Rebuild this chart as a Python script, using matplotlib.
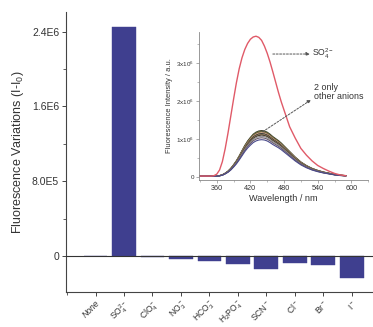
import matplotlib
matplotlib.use("Agg")
import matplotlib.pyplot as plt
from matplotlib.ticker import MultipleLocator, FixedLocator

plt.rcParams['font.family'] = ['Liberation Sans', 'DejaVu Sans']
plt.rcParams['mathtext.fontset'] = 'custom'
plt.rcParams['mathtext.rm'] = 'Liberation Sans'
plt.rcParams['mathtext.it'] = 'Liberation Sans:italic'

# ---- main bar data ----
anions = ["None", r"SO$_4^{2-}$", r"ClO$_4^-$", r"NO$_3^-$", r"HCO$_3^-$",
          r"H$_2$PO$_4^-$", r"SCN$^-$", r"Cl$^-$", r"Br$^-$", r"I$^-$"]
variations = [0, 2.455e6, -1.0e4, -3.5e4, -5.4e4, -8.2e4, -1.36e5, -7.5e4, -1.0e5, -2.4e5]
main_yticks = [0, 8.0e5, 1.6e6, 2.4e6]
main_yticklabels = ["0", "8.0E5", "1.6E6", "2.4E6"]

# ---- inset spectra data (intensity in units of 1e6) ----
wavelength = [330, 340, 350, 355, 360, 365, 370, 375, 380, 385, 390, 395, 400, 405, 410,
              415, 420, 425, 430, 435, 440, 445, 450, 455, 460, 465, 470, 475, 480,
              490, 500, 510, 520, 530, 540, 550, 560, 570, 580, 590]
so4_curve = [0.02, 0.02, 0.02, 0.03, 0.07, 0.18, 0.40, 0.74, 1.15, 1.60, 2.05, 2.48, 2.85, 3.14, 3.36,
             3.52, 3.63, 3.69, 3.71, 3.68, 3.60, 3.45, 3.26, 3.03, 2.77, 2.50, 2.23, 1.98, 1.76,
             1.32, 1.02, 0.75, 0.57, 0.42, 0.30, 0.22, 0.15, 0.09, 0.05, 0.03]
other_profile = [0.02, 0.02, 0.02, 0.02, 0.02, 0.03, 0.05, 0.09, 0.14, 0.21, 0.30, 0.40, 0.52, 0.65, 0.78,
                 0.89, 0.98, 1.06, 1.11, 1.14, 1.15, 1.14, 1.11, 1.06, 1.00, 0.95, 0.90, 0.84, 0.77,
                 0.63, 0.49, 0.37, 0.28, 0.21, 0.16, 0.12, 0.09, 0.06, 0.04, 0.03]
other_peaks = [1.22, 1.20, 1.18, 1.16, 1.14, 1.12, 1.10, 1.07, 1.03, 0.98]
other_colors = ["#3a3a2a", "#5a6a3a", "#7a5a3a", "#d8b090", "#2a2a2a", "#8a7a5a",
                "#4a3a2a", "#909090", "#6a5a6a", "#4a4a8a"]
inset_xticks = [360, 420, 480, 540, 600]
inset_yticks = [0, 1, 2, 3]
inset_yticklabels = ["0", r"1x10$^6$", r"2x10$^6$", r"3x10$^6$"]

text_color = "#333333"
bar_color = "#3f3f8f"

fig = plt.figure(figsize=(3.73, 3.27), dpi=100)
ax = fig.add_axes([0.177, 0.107, 0.823, 0.856])

x = list(range(len(anions)))
ax.bar(x, variations, width=0.84, color=bar_color, edgecolor=bar_color, linewidth=0.3, zorder=2)
ax.axhline(0, color="#333333", linewidth=0.8, zorder=3)
ax.set_xlim(-1.035, 9.74)
ax.set_ylim(-3.86e5, 2.61e6)
ax.spines["top"].set_visible(False)
ax.spines["right"].set_visible(False)
for s in ["left", "bottom"]:
    ax.spines[s].set_color("#444444")
    ax.spines[s].set_linewidth(0.8)
ax.set_yticks(main_yticks)
ax.set_yticklabels(main_yticklabels, fontsize=7.5, color=text_color)
ax.yaxis.set_minor_locator(MultipleLocator(4e5))
ax.set_xticks(x)
ax.set_xticklabels(anions, rotation=45, ha="right", rotation_mode="anchor",
                   fontsize=6.2, color=text_color)
for lbl in ax.get_xticklabels()[:1]:
    lbl.set_style("italic")
ax.xaxis.set_minor_locator(FixedLocator([-1]))
ax.tick_params(axis="both", which="major", direction="out", length=3, width=0.7, color="#444444", pad=2)
ax.tick_params(axis="x", which="major", pad=1.5)
ax.tick_params(axis="both", which="minor", direction="out", length=2, width=0.6, color="#444444")
ax.set_ylabel(r"Fluorescence Variations (I-I$_0$)", fontsize=9, color=text_color, labelpad=4)

# ---- inset ----
ins = fig.add_axes([0.533, 0.450, 0.454, 0.452])
for pk, col in zip(other_peaks, other_colors):
    ins.plot(wavelength, [v * pk / 1.15 for v in other_profile], color=col, linewidth=0.8)
ins.plot(wavelength, so4_curve, color="#e05a68", linewidth=1.0)
ins.set_xlim(328, 630)
ins.set_ylim(-0.08, 3.82)
ins.spines["top"].set_visible(False)
ins.spines["right"].set_visible(False)
for s in ["left", "bottom"]:
    ins.spines[s].set_color("#888888")
    ins.spines[s].set_linewidth(0.6)
ins.set_xticks(inset_xticks)
ins.set_xticklabels([str(v) for v in inset_xticks], fontsize=5.2, color=text_color)
ins.xaxis.set_minor_locator(MultipleLocator(30))
ins.set_yticks(inset_yticks)
ins.set_yticklabels(inset_yticklabels, fontsize=4.5, color=text_color)
ins.yaxis.set_minor_locator(MultipleLocator(0.5))
ins.tick_params(axis="both", which="major", direction="out", length=2, width=0.5, color="#888888", pad=1.5)
ins.tick_params(axis="both", which="minor", direction="out", length=1.2, width=0.4, color="#888888")
ins.set_xlabel("Wavelength / nm", fontsize=6.6, color=text_color, labelpad=1.5)
ins.set_ylabel("Fluorescence Intensity / a.u.", fontsize=5.4, color=text_color, labelpad=2)

dash_arrow = dict(arrowstyle="-|>", linestyle=(0, (2, 1.5)), color="#555555",
                  lw=0.7, mutation_scale=5, shrinkA=0, shrinkB=0)
ins.annotate("", xy=(526, 3.24), xytext=(460, 3.24), arrowprops=dash_arrow)
ins.text(530, 3.24, r"SO$_4^{2-}$", fontsize=6.2, color=text_color, va="center", ha="left")
ins.annotate("", xy=(528, 2.03), xytext=(442, 1.19), arrowprops=dash_arrow)
ins.text(534, 2.25, "2 only\nother anions", fontsize=6.4, color=text_color,
         va="center", ha="left", linespacing=1.0)

fig.savefig("out.png", dpi=100)
